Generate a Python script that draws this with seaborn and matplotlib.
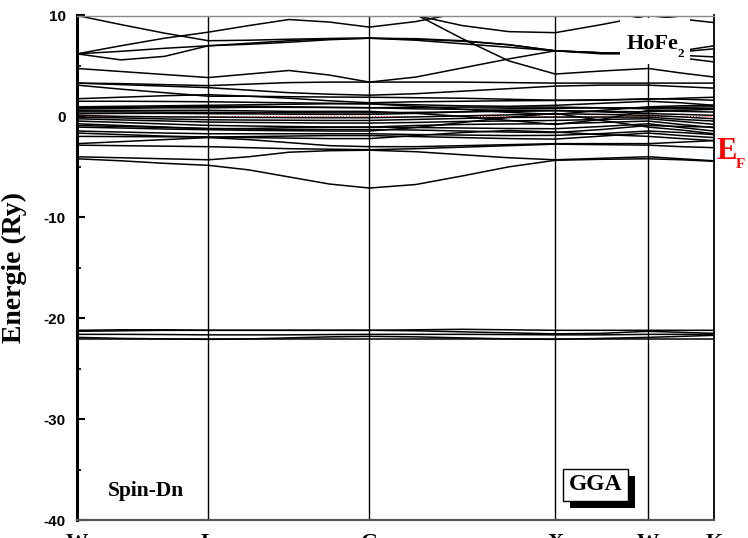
import numpy as np
import pandas as pd
import matplotlib
matplotlib.use("Agg")
import matplotlib.pyplot as plt
import matplotlib.transforms as mtransforms
from matplotlib.patches import Rectangle
from matplotlib.ticker import MultipleLocator
import seaborn as sns

sns.set_style("ticks")
plt.rcParams["font.family"] = ["Liberation Serif", "DejaVu Serif"]
plt.rcParams["axes.unicode_minus"] = False
for key in ("text.color", "axes.labelcolor", "xtick.color", "ytick.color"):
    plt.rcParams[key] = "black"

# High-symmetry path of the fcc Brillouin zone (units of 2*pi/a)
k_labels = ["W", "L", "G", "X", "W", "K"]
k_nodes = [0.0, 0.7071, 1.5731, 2.5731, 3.0731, 3.4267]
k_path = [0.000, 0.236, 0.471, 0.707, 0.924, 1.140, 1.357, 1.573,
          1.823, 2.073, 2.323, 2.573, 2.823, 3.073, 3.250, 3.427]

# Conduction bands above ~2.5 Ry
bands_high = [
    [10.0, 9.1, 8.25, 7.5, 7.55, 7.65, 7.72, 7.75, 7.55, 7.2, 6.85, 6.5, 6.3, 6.2, 6.05, 5.9],
    [6.2, 7.0, 7.75, 8.35, 9.0, 9.6, 9.35, 8.85, 9.4, 10.3, 11.0, 11.5, 11.5, 11.5, 11.5, 11.5],
    [11.5, 11.5, 11.5, 11.3, 10.9, 10.5, 10.2, 10.05, 10.0, 9.0, 8.4, 8.3, 9.1, 10.0, 9.65, 9.3],
    [4.75, 4.45, 4.15, 3.85, 4.2, 4.55, 4.1, 3.4, 3.9, 4.8, 5.7, 6.5, 6.3, 6.2, 6.5, 7.0],
    [11.5, 11.5, 11.5, 11.5, 11.5, 11.5, 11.0, 10.6, 10.1, 7.7, 5.5, 4.2, 4.5, 4.75, 4.3, 3.9],
    [6.2, 5.6, 5.95, 7.0, 7.25, 7.5, 7.7, 7.75, 7.65, 7.45, 7.1, 6.5, 6.2, 6.2, 6.4, 6.7],
    [6.2, 6.45, 6.75, 7.0, 7.15, 7.35, 7.6, 7.75, 7.7, 7.5, 7.1, 6.5, 6.3, 6.2, 5.8, 5.4],
]

# Bands between ~1.3 and ~3.5 Ry
bands_mid = [
    [3.3, 3.15, 3.0, 2.85, 2.6, 2.35, 2.2, 2.1, 2.25, 2.5, 2.75, 3.0, 3.1, 3.1, 2.95, 2.8],
    [3.3, 3.25, 3.15, 3.05, 3.2, 3.35, 3.4, 3.4, 3.4, 3.4, 3.35, 3.3, 3.3, 3.3, 3.3, 3.3],
    [3.1, 2.7, 2.35, 2.0, 2.0, 1.95, 1.92, 1.9, 1.85, 1.8, 1.7, 1.6, 1.65, 1.7, 1.8, 1.9],
    [1.75, 1.9, 2.05, 2.15, 2.0, 1.8, 1.55, 1.35, 1.45, 1.5, 1.55, 1.58, 1.6, 1.75, 1.7, 1.6],
    [1.5, 1.5, 1.48, 1.45, 1.4, 1.35, 1.3, 1.25, 1.15, 1.05, 1.0, 1.1, 1.3, 1.5, 1.35, 1.1],
]

# Dense d-band manifold around the Fermi level
bands_fermi = [
    [0.95, 1.0, 1.05, 1.1, 1.15, 1.2, 1.25, 1.25, 1.0, 0.7, 0.4, 0.2, 0.6, 0.95, 1.05, 1.1],
    [0.75, 0.8, 0.85, 0.85, 0.9, 0.9, 0.88, 0.86, 0.9, 0.92, 0.92, 0.92, 0.85, 0.75, 0.75, 0.76],
    [0.85, 0.9, 0.95, 1.0, 1.0, 0.95, 0.9, 0.86, 0.75, 0.7, 0.75, 0.8, 0.85, 0.85, 0.9, 0.95],
    [0.6, 0.6, 0.6, 0.6, 0.55, 0.5, 0.5, 0.5, 0.3, 0.0, -0.4, -0.8, -0.3, 0.6, 0.5, 0.43],
    [0.45, 0.45, 0.42, 0.4, 0.38, 0.36, 0.35, 0.35, 0.4, 0.45, 0.5, 0.55, 0.5, 0.45, 0.6, 0.7],
    [0.27, 0.3, 0.3, 0.27, 0.25, 0.22, 0.2, 0.2, 0.3, 0.45, 0.6, 0.6, 0.45, 0.27, 0.2, 0.1],
    [0.1, 0.0, -0.05, -0.07, -0.1, -0.12, -0.13, -0.13, -0.05, 0.05, 0.15, 0.27, 0.2, 0.1, -0.05, -0.23],
    [-0.07, -0.15, -0.25, -0.33, -0.36, -0.38, -0.4, -0.4, -0.3, -0.2, -0.1, -0.07, -0.07, -0.07, -0.3, -0.46],
    [-0.23, -0.35, -0.45, -0.56, -0.6, -0.63, -0.66, -0.66, -0.6, -0.5, -0.45, -0.4, -0.3, -0.23, -0.5, -0.79],
    [-0.46, -0.6, -0.75, -0.89, -0.95, -1.0, -1.05, -1.06, -0.9, -0.8, -0.75, -0.73, -0.6, -0.46, -0.8, -1.12],
    [-0.73, -0.9, -1.05, -1.22, -1.2, -1.12, -1.08, -1.06, -1.1, -1.15, -1.2, -1.22, -1.0, -0.73, -1.1, -1.45],
    [-0.9, -1.0, -1.1, -1.2, -1.25, -1.3, -1.3, -1.3, -1.35, -1.45, -1.55, -1.6, -1.3, -0.9, -1.0, -1.05],
    [-1.06, -1.15, -1.25, -1.32, -1.38, -1.42, -1.45, -1.45, -1.1, -0.6, -0.1, 0.3, -0.4, -1.06, -1.35, -1.72],
    [-1.45, -1.55, -1.65, -1.72, -1.72, -1.72, -1.72, -1.72, -1.8, -1.85, -1.9, -1.88, -1.7, -1.45, -1.6, -1.8],
    [-1.65, -1.8, -1.95, -2.05, -2.0, -1.95, -1.9, -1.9, -2.0, -2.1, -2.2, -2.25, -1.95, -1.65, -1.9, -2.1],
    [-1.98, -2.0, -2.02, -2.05, -2.1, -2.15, -2.2, -2.2, -1.9, -1.6, -1.4, -1.55, -1.8, -1.98, -2.2, -2.4],
]

# Lower valence bands
bands_low = [
    [-2.7, -2.5, -2.3, -2.1, -2.3, -2.6, -2.9, -3.0, -3.0, -2.9, -2.8, -2.7, -2.7, -2.7, -2.55, -2.4],
    [-2.85, -2.9, -2.95, -3.0, -3.1, -3.2, -3.25, -3.3, -3.2, -3.05, -2.9, -2.75, -2.8, -2.85, -3.0, -3.1],
    [-4.0, -4.1, -4.2, -4.3, -4.0, -3.55, -3.4, -3.35, -3.5, -3.8, -4.1, -4.3, -4.15, -4.0, -4.2, -4.4],
    [-4.2, -4.4, -4.65, -4.85, -5.3, -6.0, -6.7, -7.1, -6.75, -5.9, -5.0, -4.35, -4.25, -4.2, -4.3, -4.45],
]

# Semicore states near -21 Ry
bands_semicore = [
    [-21.2, -21.15, -21.15, -21.2, -21.2, -21.2, -21.2, -21.2, -21.15, -21.1, -21.15, -21.2, -21.2, -21.2, -21.2, -21.2],
    [-21.3, -21.25, -21.2, -21.2, -21.2, -21.2, -21.2, -21.2, -21.25, -21.35, -21.45, -21.55, -21.5, -21.3, -21.4, -21.5],
    [-21.6, -21.6, -21.62, -21.65, -21.65, -21.65, -21.62, -21.6, -21.6, -21.6, -21.62, -21.65, -21.65, -21.6, -21.6, -21.6],
    [-21.9, -22.0, -22.05, -22.1, -22.05, -21.95, -21.85, -21.8, -21.85, -21.95, -22.05, -22.1, -22.0, -21.9, -21.8, -21.7],
    [-22.1, -22.1, -22.1, -22.1, -22.1, -22.1, -22.1, -22.1, -22.1, -22.1, -22.1, -22.1, -22.1, -22.1, -22.1, -22.1],
]

# Long-form table: one row per (band, k) sample
rows = []
band_id = 0
for group in (bands_high, bands_mid, bands_fermi, bands_low, bands_semicore):
    for band in group:
        for k, e in zip(k_path, band):
            rows.append({"k": k, "E": e, "band": band_id})
        band_id += 1
df = pd.DataFrame(rows)

W_PX, H_PX = 748, 538
fig = plt.figure(figsize=(W_PX / 100, H_PX / 100), dpi=100)
ax_l, ax_r, ax_t, ax_b = 77, 714, 15.5, 520
ax = fig.add_axes([ax_l / W_PX, 1 - ax_b / H_PX, (ax_r - ax_l) / W_PX, (ax_b - ax_t) / H_PX])


def px(x, y):
    """Pixel position -> axes fraction."""
    return (x - ax_l) / (ax_r - ax_l), (ax_b - y) / (ax_b - ax_t)


# Fermi level
ax.axhline(0, color="red", lw=0.7, ls=(0, (1, 2)), zorder=1)

sns.lineplot(data=df, x="k", y="E", units="band", estimator=None, sort=False,
             color="black", linewidth=1.1, legend=False, ax=ax, zorder=2)

for k in k_nodes[1:-1]:
    ax.axvline(k, color="black", lw=1.0, zorder=1.5)

ax.set_xlim(k_nodes[0], k_nodes[-1])
ax.set_ylim(-40, 10)
ax.set_xticks([])
ax.set_xlabel("")
ax.set_yticks([-40, -30, -20, -10, 0, 10])
ax.yaxis.set_minor_locator(MultipleLocator(5))
ax.tick_params(axis="y", which="major", direction="in", length=6, width=1.5,
               pad=8, labelsize=11, right=False)
ax.tick_params(axis="y", which="minor", direction="in", length=3, width=1.2, right=False)
for lab in ax.get_yticklabels():
    lab.set_fontfamily("Liberation Sans")
    lab.set_fontweight("bold")

for side, lw, col in (("left", 2.2, "black"), ("bottom", 1.6, "#555555"),
                      ("top", 1.0, "#8a8a8a"), ("right", 1.3, "black")):
    ax.spines[side].set_visible(True)
    ax.spines[side].set_linewidth(lw)
    ax.spines[side].set_color(col)

ax.set_ylabel("Energie (Ry)", fontsize=20, fontweight="bold",
              fontfamily="Liberation Serif")
ax.yaxis.set_label_coords(-0.078, 0.5)

# k-point labels under the axis
trans = mtransforms.blended_transform_factory(ax.transData, fig.transFigure)
for k, lab in zip(k_nodes, k_labels):
    ax.text(k, 1 - 533 / H_PX, lab, transform=trans, ha="center", va="top",
            fontsize=16, fontweight="bold", clip_on=False)

# Compound label on a white patch
x0, y1 = px(620, 64)
x1, y0 = px(690, 18)
ax.add_patch(Rectangle((x0, y1), x1 - x0, y0 - y1, transform=ax.transAxes,
                       fc="white", ec="none", zorder=3))
tx, ty = px(627, 49)
ax.text(tx, ty, "HoFe", transform=ax.transAxes, ha="left", va="baseline",
        fontsize=16, fontweight="bold", zorder=4)
tx, ty = px(678, 57)
ax.text(tx, ty, "2", transform=ax.transAxes, ha="left", va="baseline",
        fontsize=9.5, fontweight="bold", zorder=4)

# Fermi-level marker
fig.text(716 / W_PX, 1 - 159 / H_PX, "E", color="red", fontsize=22,
         fontweight="bold", ha="left", va="baseline")
fig.text(736 / W_PX, 1 - 168 / H_PX, "F", color="red", fontsize=11,
         fontweight="bold", ha="left", va="baseline")

# Spin channel
tx, ty = px(146, 491)
ax.text(tx, ty, "Spin-Dn", transform=ax.transAxes, ha="center", va="center",
        fontsize=15.5, fontweight="bold", zorder=4)

# Functional box with drop shadow
bx0, by0 = px(563, 501)
bx1, by1 = px(628, 469)
sx0, sy0 = px(570, 508)
ax.add_patch(Rectangle((sx0, sy0), bx1 - bx0, by1 - by0, transform=ax.transAxes,
                       fc="black", ec="none", zorder=5))
ax.add_patch(Rectangle((bx0, by0), bx1 - bx0, by1 - by0, transform=ax.transAxes,
                       fc="white", ec="black", lw=1.0, zorder=6))
ax.text((bx0 + bx1) / 2, (by0 + by1) / 2, "GGA", transform=ax.transAxes,
        ha="center", va="center", fontsize=17, fontweight="bold", zorder=7)

fig.savefig("out.png", dpi=100)
